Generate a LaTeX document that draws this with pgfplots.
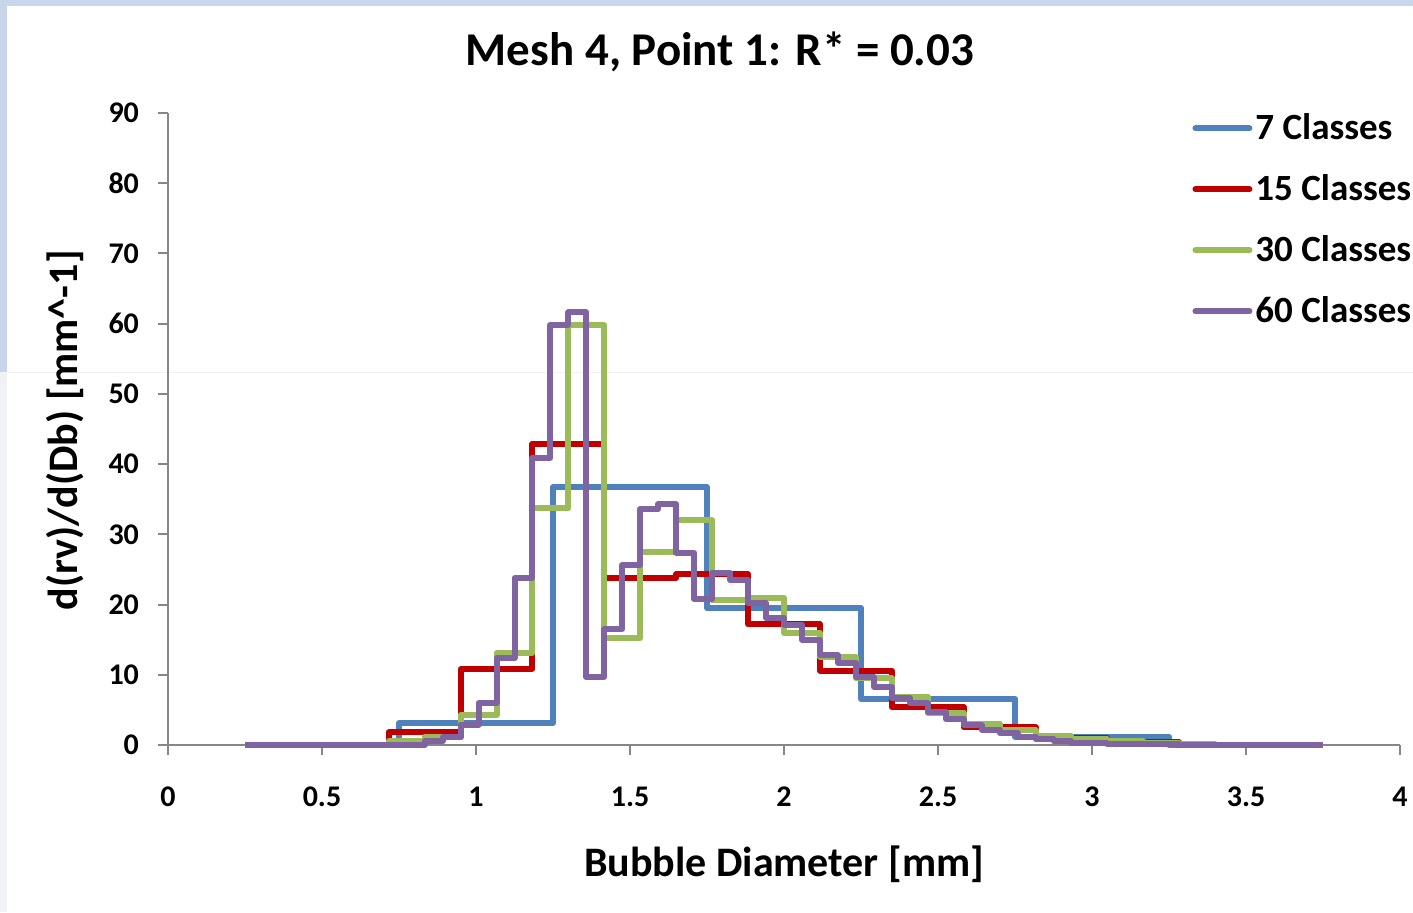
\documentclass[border=0pt]{standalone}
\usepackage{fontspec}
\setmainfont{Carlito}
\usepackage{pgfplots}
\pgfplotsset{compat=1.18}
\definecolor{cBlue}{HTML}{4F81BD}
\definecolor{cRed}{HTML}{C00000}
\definecolor{cGreen}{HTML}{9BBB59}
\definecolor{cPurple}{HTML}{8064A2}
\definecolor{axgray}{HTML}{868686}
\definecolor{bandblue}{HTML}{C8D6EC}
\definecolor{bandgray}{HTML}{F1F2F5}
\begin{document}
\begin{tikzpicture}[x=0.5pt,y=0.5pt]
\fill[white] (-168,-167) rectangle (1245,745);
\fill[bandgray] (-168,-167) rectangle (-161,373);
\fill[bandblue] (-168,373) rectangle (-161,745);
\fill[bandblue] (-168,739) rectangle (1245,745);
\draw[black!6, line width=0.5pt] (-161,373) -- (1245,373);
\begin{axis}[
  at={(0pt,0pt)}, anchor=origin,
  scale only axis, width=616pt, height=316pt,
  xmin=0, xmax=4, ymin=0, ymax=90,
  axis lines=left, axis line style={-, axgray, line width=1pt},
  xtick={0,0.5,...,4}, ytick={0,10,...,90},
  tick style={axgray, line width=1pt}, major tick length=5pt, tick align=outside,
  /pgf/number format/assume math mode=true,
  ticklabel style={font=\bfseries\fontsize{15}{17}\selectfont},
  xticklabel style={yshift=-12.5pt},
  yticklabel style={xshift=-6pt},
  title={Mesh 4, Point 1: R* = 0.03},
  title style={font=\bfseries\fontsize{23.5}{27}\selectfont, at={(axis description cs:0.448,1.0775)}, anchor=center},
  xlabel={Bubble Diameter [mm]},
  xlabel style={font=\bfseries\fontsize{21}{24}\selectfont, at={(axis description cs:0.5,-0.188)}, anchor=center},
  ylabel={d(rv)/d(Db) [mm\textasciicircum-1]},
  ylabel style={font=\bfseries\fontsize{21}{24}\selectfont, at={(axis description cs:-0.0836,0.498)}, anchor=center},
  legend style={at={(axis description cs:0.8312,1.004)}, anchor=north west, draw=none, fill=none,
    font=\bfseries\fontsize{18.5}{21.5}\selectfont, row sep=13pt, inner sep=0pt,
    nodes={inner sep=1.5pt}},
  legend cell align=left,
  legend image code/.code={\draw[#1, line cap=round] (0pt,0pt) -- (27pt,0pt);},
  every axis plot/.append style={line width=3pt, line join=round, const plot},
  clip=false,
]
\addplot[cBlue] coordinates {(0.25,0) (0.75,3.1) (1.25,36.7) (1.75,19.5) (2.25,6.6) (2.75,1.2) (3.25,0) (3.75,0)};
\addlegendentry{7 Classes}
\addplot[cRed] coordinates {(0.25,0) (0.4833,0) (0.7167,1.8) (0.95,10.8) (1.1833,42.9) (1.4167,23.8) (1.65,24.3) (1.8833,17.2) (2.1167,10.6) (2.35,5.4) (2.5833,2.5) (2.8167,1.0) (3.05,0.4) (3.2833,0) (3.5167,0) (3.75,0)};
\addlegendentry{15 Classes}
\addplot[cGreen] coordinates {(0.25,0) (0.3667,0) (0.4833,0) (0.6,0) (0.7167,0.5) (0.8333,1.2) (0.95,4.3) (1.0667,13.1) (1.1833,33.7) (1.3,59.8) (1.4167,15.2) (1.5333,27.5) (1.65,32.0) (1.7667,20.6) (1.8833,21.0) (2.0,16.0) (2.1167,12.6) (2.2333,9.5) (2.35,6.9) (2.4667,4.6) (2.5833,3.0) (2.7,2.1) (2.8167,1.3) (2.9333,0.8) (3.05,0.5) (3.1667,0.25) (3.2833,0.1) (3.4,0.05) (3.5167,0.05) (3.6333,0.05) (3.75,0.05)};
\addlegendentry{30 Classes}
\addplot[cPurple] coordinates {(0.25,0) (0.3083,0) (0.3667,0) (0.425,0) (0.4833,0) (0.5417,0) (0.6,0) (0.6583,0) (0.7167,0) (0.775,0) (0.8333,0.5) (0.8917,1.1) (0.95,2.9) (1.0083,6.0) (1.0667,12.4) (1.125,23.8) (1.1833,40.9) (1.2417,59.8) (1.3,61.6) (1.3583,9.7) (1.4167,16.5) (1.475,25.6) (1.5333,33.6) (1.5917,34.3) (1.65,27.4) (1.7083,20.8) (1.7667,24.5) (1.825,23.5) (1.8833,20.2) (1.9417,18.1) (2.0,17.1) (2.0583,15.0) (2.1167,12.8) (2.175,11.7) (2.2333,9.7) (2.2917,8.3) (2.35,6.7) (2.4083,6.0) (2.4667,4.7) (2.525,3.7) (2.5833,2.8) (2.6417,2.2) (2.7,1.7) (2.7583,1.2) (2.8167,0.8) (2.875,0.5) (2.9333,0.35) (2.9917,0.25) (3.05,0.15) (3.1083,0.1) (3.1667,0.1) (3.225,0.1) (3.2833,0.05) (3.3417,0.05) (3.4,0.05) (3.4583,0.05) (3.5167,0.05) (3.575,0.05) (3.6333,0.05) (3.6917,0.05) (3.75,0.05)};
\addlegendentry{60 Classes}
\end{axis}
\pgfresetboundingbox
\path[use as bounding box] (-168,-167) rectangle (1245,745);
\end{tikzpicture}
\end{document}
